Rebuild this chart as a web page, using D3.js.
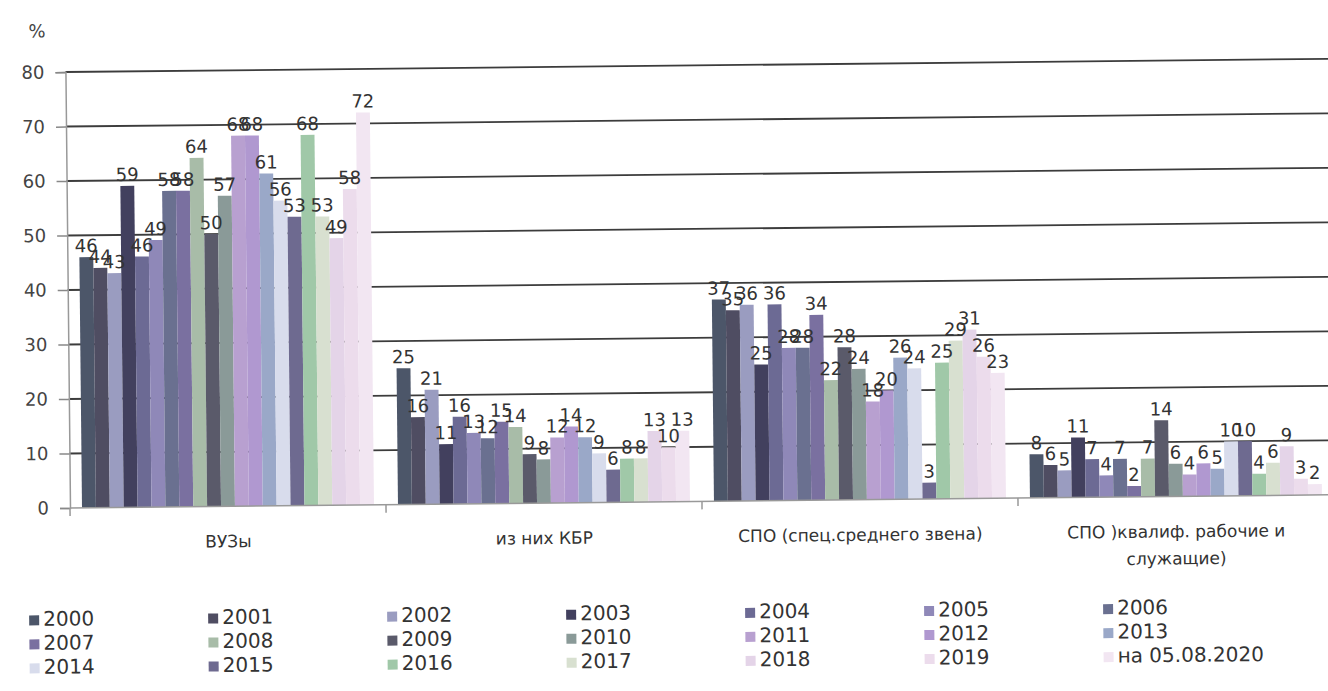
<!DOCTYPE html>
<html>
<head>
<meta charset="utf-8">
<script src="https://cdn.jsdelivr.net/npm/d3@7"></script>
<style>
  body { margin: 0; background: #fff; }
  svg { display: block; }
</style>
</head>
<body>
<svg id="chart"></svg>
<script>
// categories and series
const categories = ["ВУЗы", "из них КБР", "СПО (спец.среднего звена)", "СПО )квалиф. рабочие и служащие)"];
const seriesNames = ["2000", "2001", "2002", "2003", "2004", "2005", "2006", "2007", "2008", "2009",
  "2010", "2011", "2012", "2013", "2014", "2015", "2016", "2017", "2018", "2019", "на 05.08.2020"];

// values per category, one per series (in order above)
const vuzy = [46, 44, 43, 59, 46, 49, 58, 58, 64, 50, 57, 68, 68, 61, 56, 53, 68, 53, 49, 58, 72];
const kbr = [25, 16, 21, 11, 16, 13, 12, 15, 14, 9, 8, 12, 14, 12, 9, 6, 8, 8, 13, 10, 13];
const spoSpec = [37, 35, 36, 25, 36, 28, 28, 34, 22, 28, 24, 18, 20, 26, 24, 3, 25, 29, 31, 26, 23];
const spoKval = [8, 6, 5, 11, 7, 4, 7, 2, 7, 14, 6, 4, 6, 5, 10, 10, 4, 6, 9, 3, 2];

const yTicks = [0, 10, 20, 30, 40, 50, 60, 70, 80];

const colors = ["#4c5669", "#4f4d62", "#9a9cc0", "#42405e", "#6c6a94", "#8f88b8", "#6a7090",
  "#7a70a0", "#a8bca8", "#5a5a6a", "#8a9a98", "#b8a0d0", "#b098d0", "#9aa8c8",
  "#d8dcec", "#6e6a90", "#a0c8a8", "#d8e0d0", "#e4d4e8", "#ecdcec", "#f2e6f2"];

const width = 1328, height = 691;
const font = "DejaVu Sans";

const svg = d3.select("#chart").attr("width", width).attr("height", height);
// the scanned source is slightly tilted
const g = svg.append("g").attr("transform", "rotate(-0.6, 70, 508)");

const table = [vuzy, kbr, spoSpec, spoKval];

const x0 = d3.scaleBand().domain(categories).range([70, 1334]);
const x1 = d3.scaleBand().domain(seriesNames).range([12, x0.bandwidth() - 12]);
const y = d3.scaleLinear().domain([0, 80]).range([508, 72]);

// gridlines
g.append("g")
  .selectAll("line")
  .data(yTicks.filter((d) => d > 0))
  .join("line")
  .attr("x1", 70)
  .attr("x2", 1334)
  .attr("y1", (d) => y(d))
  .attr("y2", (d) => y(d))
  .attr("stroke", "#3c3c3c")
  .attr("stroke-width", 1.8);

// y axis
const yAxis = g.append("g")
  .attr("transform", "translate(70,0)")
  .call(d3.axisLeft(y).tickValues(yTicks).tickSize(10).tickPadding(11));
yAxis.select(".domain").attr("stroke", "#999").attr("stroke-width", 1.5);
yAxis.selectAll(".tick line").attr("stroke", "#888").attr("stroke-width", 1.5);
yAxis.selectAll("text")
  .attr("font-family", font)
  .attr("font-size", 18)
  .attr("fill", "#444");

g.append("text")
  .attr("x", 42)
  .attr("y", 37)
  .attr("text-anchor", "middle")
  .attr("font-family", font)
  .attr("font-size", 18)
  .attr("fill", "#444")
  .text("%");

// bars
const groups = g.append("g")
  .selectAll("g")
  .data(categories)
  .join("g")
  .attr("transform", (d) => `translate(${x0(d)},0)`);

groups.selectAll("rect")
  .data((c, i) => table[i].map((v, j) => ({ key: seriesNames[j], value: v, idx: j })))
  .join("rect")
  .attr("x", (d) => x1(d.key))
  .attr("y", (d) => y(d.value))
  .attr("width", x1.bandwidth())
  .attr("height", (d) => y(0) - y(d.value))
  .attr("fill", (d) => colors[d.idx]);

groups.selectAll("text")
  .data((c, i) => table[i].map((v, j) => ({ key: seriesNames[j], value: v })))
  .join("text")
  .attr("x", (d) => x1(d.key) + x1.bandwidth() / 2)
  .attr("y", (d) => y(d.value) - 5)
  .attr("text-anchor", "middle")
  .attr("font-family", font)
  .attr("font-size", 18)
  .attr("fill", "#333")
  .text((d) => d.value);

// x axis
g.append("line")
  .attr("x1", 70).attr("x2", 1334)
  .attr("y1", y(0)).attr("y2", y(0))
  .attr("stroke", "#999").attr("stroke-width", 1.5);
g.append("g")
  .selectAll("line")
  .data(d3.range(categories.length + 1))
  .join("line")
  .attr("x1", (d) => 70 + d * x0.step())
  .attr("x2", (d) => 70 + d * x0.step())
  .attr("y1", y(0))
  .attr("y2", y(0) + 8)
  .attr("stroke", "#999")
  .attr("stroke-width", 1.5);

// category labels (last one wraps on two lines)
const catLines = [["ВУЗы"], ["из них КБР"], ["СПО (спец.среднего звена)"], ["СПО )квалиф. рабочие и", "служащие)"]];
g.append("g")
  .selectAll("text")
  .data(categories)
  .join("text")
  .attr("x", (d) => x0(d) + x0.bandwidth() / 2)
  .attr("y", 549)
  .attr("text-anchor", "middle")
  .attr("font-family", font)
  .attr("font-size", 17)
  .attr("fill", "#333")
  .selectAll("tspan")
  .data((d, i) => catLines[i])
  .join("tspan")
  .attr("x", function () { return this.parentNode.getAttribute("x"); })
  .attr("dy", (d, i) => (i === 0 ? 0 : 27))
  .text((d) => d);

// legend: 7 columns x 3 rows
const legend = g.append("g")
  .selectAll("g")
  .data(seriesNames)
  .join("g")
  .attr("transform", (d, i) => `translate(${28 + (i % 7) * 179},${620 + Math.floor(i / 7) * 24})`);
legend.append("rect")
  .attr("x", 0).attr("y", -5)
  .attr("width", 10).attr("height", 10)
  .attr("fill", (d, i) => colors[i]);
legend.append("text")
  .attr("x", 14)
  .attr("y", 0)
  .attr("dominant-baseline", "middle")
  .attr("font-family", font)
  .attr("font-size", 20)
  .attr("fill", "#333")
  .text((d) => d);
</script>
</body>
</html>
